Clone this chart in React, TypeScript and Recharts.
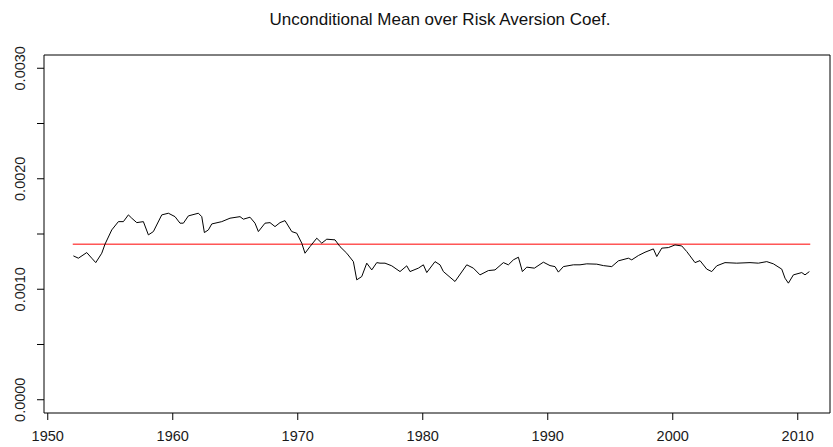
import React from 'react';
import { LineChart, Line, XAxis, YAxis, ReferenceArea, ReferenceLine } from 'recharts';

// monthly-ish readings of the unconditional mean
const years = [
  1952.05, 1952.45, 1953.12, 1953.52, 1953.84, 1954.32, 1954.58, 1955.12, 1955.65, 1956.05,
  1956.45, 1956.72, 1957.12, 1957.65, 1958.05, 1958.45, 1959.12, 1959.65, 1960.18, 1960.58,
  1960.85, 1961.25, 1962.05, 1962.32, 1962.53, 1962.85, 1963.12, 1963.92, 1964.58, 1965.38,
  1965.65, 1966.18, 1966.58, 1966.85, 1967.38, 1967.78, 1968.18, 1968.58, 1968.98, 1969.52,
  1969.92, 1970.32, 1970.58, 1970.98, 1971.52, 1971.92, 1972.32, 1972.98, 1973.38, 1973.92,
  1974.45, 1974.72, 1975.12, 1975.52, 1975.92, 1976.32, 1976.58, 1976.98, 1977.52, 1978.18,
  1978.72, 1978.98, 1979.65, 1980.05, 1980.32, 1980.98, 1981.38, 1981.65, 1982.58, 1983.52,
  1984.05, 1984.58, 1985.25, 1985.78, 1986.45, 1986.85, 1987.25, 1987.65, 1987.97, 1988.32,
  1988.93, 1989.65, 1990.18, 1990.58, 1990.85, 1991.25, 1992.05, 1992.58, 1993.12, 1993.92,
  1994.45, 1995.12, 1995.65, 1996.45, 1996.72, 1997.25, 1997.78, 1998.45, 1998.72, 1999.12,
  1999.65, 2000.18, 2000.72, 2001.12, 2001.38, 2001.78, 2002.18, 2002.72, 2003.12, 2003.52,
  2004.18, 2005.12, 2006.18, 2006.85, 2007.52, 2008.05, 2008.72, 2008.98, 2009.25, 2009.65,
  2010.32, 2010.58, 2010.93,
];

const meanValues = [
  0.001302, 0.001281, 0.001332, 0.001281, 0.001241, 0.001326, 0.001408, 0.001537, 0.001612, 0.001612,
  0.001673, 0.001643, 0.001603, 0.001612, 0.001492, 0.001522, 0.001673, 0.001688, 0.001657, 0.001598,
  0.001598, 0.001664, 0.001688, 0.001657, 0.001513, 0.001537, 0.001591, 0.001612, 0.001643, 0.001657,
  0.001634, 0.001652, 0.001598, 0.001522, 0.001598, 0.001603, 0.001567, 0.001603, 0.001621, 0.001522,
  0.001507, 0.001417, 0.001326, 0.001386, 0.001462, 0.001417, 0.001453, 0.001447, 0.001386, 0.001326,
  0.00125, 0.001085, 0.001115, 0.001236, 0.001175, 0.001241, 0.001236, 0.001236, 0.001212, 0.00116,
  0.001212, 0.00116, 0.001191, 0.001221, 0.001151, 0.00125, 0.001221, 0.00116, 0.00107, 0.001221,
  0.001191, 0.00113, 0.001169, 0.001175, 0.001241, 0.001221, 0.001266, 0.00129, 0.00116, 0.0012,
  0.001191, 0.001245, 0.001214, 0.001205, 0.001155, 0.001205, 0.001221, 0.001221, 0.00123, 0.001227,
  0.001214, 0.001205, 0.001257, 0.001281, 0.001266, 0.001305, 0.001335, 0.001365, 0.001296, 0.001372,
  0.001377, 0.001401, 0.001392, 0.001341, 0.001302, 0.001241, 0.001259, 0.001182, 0.00116, 0.001212,
  0.001241, 0.001236, 0.001241, 0.001236, 0.00125, 0.00123, 0.001182, 0.0011, 0.001055, 0.00113,
  0.001151, 0.00113, 0.00116,
];

const riskAversionMean = 0.001408;
const meanStart = 1952.0;
const meanEnd = 2011.0;

const xTicks = [1950, 1960, 1970, 1980, 1990, 2000, 2010];
const yTicks = [0, 0.0005, 0.001, 0.0015, 0.002, 0.0025, 0.003];
const yLabels = ['0.0000', '', '0.0010', '', '0.0020', '', '0.0030'];

const xDomain = [1949.7, 2012.58];
const yDomain = [-0.00012, 0.00312];

const data = years.map((y, i) => ({ year: y, value: meanValues[i] }));

const font = '"Liberation Sans", Arial, sans-serif';

const XTick = (props: any) => {
  const { x, y, payload } = props;
  return (
    <text x={x} y={y} dy={21} textAnchor="middle" fontSize={14.5} fontFamily={font} fill="#1a1a1a">
      {payload.value}
    </text>
  );
};

const YTick = (props: any) => {
  const { y, payload, index } = props;
  const label = yLabels[index];
  if (!label) return <g />;
  return (
    <text x={25} y={y} transform={`rotate(-90, 25, ${y})`} textAnchor="middle" fontSize={14.5} fontFamily={font} fill="#1a1a1a">
      {label}
    </text>
  );
};

export default function App() {
  return (
    <div style={{ position: 'absolute', left: 0, top: 0, width: 833, height: 447, background: '#fff' }}>
      <div
        style={{
          position: 'absolute', left: 44, top: 10, width: 792, textAlign: 'center',
          fontFamily: font, fontSize: 17, lineHeight: '20px', color: '#111',
        }}
      >
        Unconditional Mean over Risk Aversion Coef.
      </div>
      <LineChart width={833} height={447} data={data} margin={{ top: 55, right: 3, bottom: 0, left: 0 }}>
        <XAxis
          dataKey="year"
          type="number"
          domain={xDomain}
          ticks={xTicks}
          allowDataOverflow
          height={34}
          axisLine={false}
          tickSize={7}
          tickMargin={0}
          tickLine={{ stroke: '#000' }}
          tick={<XTick />}
        />
        <YAxis
          type="number"
          domain={yDomain}
          ticks={yTicks}
          allowDataOverflow
          width={44}
          axisLine={false}
          tickSize={7}
          tickMargin={0}
          tickLine={{ stroke: '#000' }}
          tick={<YTick />}
        />
        <ReferenceArea
          x1={xDomain[0]}
          x2={xDomain[1]}
          y1={yDomain[0]}
          y2={yDomain[1]}
          fill="none"
          fillOpacity={0}
          stroke="#000"
          strokeWidth={1}
          ifOverflow="visible"
        />
        <ReferenceLine
          segment={[{ x: meanStart, y: riskAversionMean }, { x: meanEnd, y: riskAversionMean }]}
          stroke="#ff0000"
          strokeWidth={1}
        />
        <Line
          type="linear"
          dataKey="value"
          stroke="#000"
          strokeWidth={1}
          dot={false}
          isAnimationActive={false}
        />
      </LineChart>
    </div>
  );
}
